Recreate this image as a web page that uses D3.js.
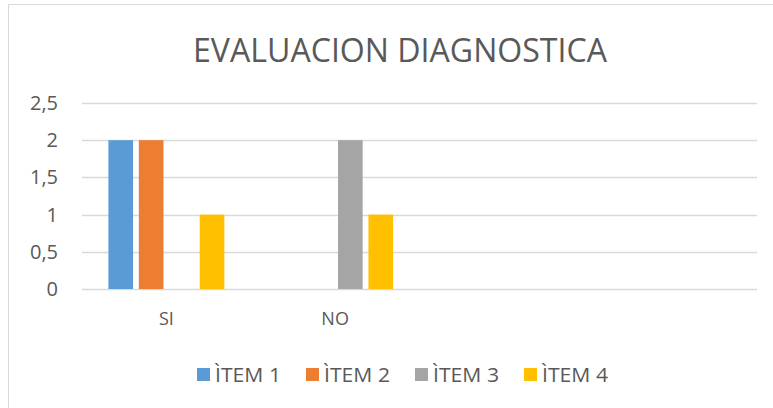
<!DOCTYPE html>
<html><head><meta charset="utf-8">
<script src="https://cdn.jsdelivr.net/npm/d3@7"></script>
<style>body{margin:0;background:#fff}svg{display:block}</style>
</head><body>
<script>
const title = "EVALUACION DIAGNOSTICA";
const categories = ["SI", "NO", "", ""];
const seriesNames = ["ÌTEM 1", "ÌTEM 2", "ÌTEM 3", "ÌTEM 4"];
const item1 = [2, 0, 0, 0];
const item2 = [2, 0, 0, 0];
const item3 = [0, 2, 0, 0];
const item4 = [1, 1, 0, 0];
const yTicks = [0, 0.5, 1, 1.5, 2, 2.5];
const colors = ["#5B9BD5", "#ED7D31", "#A5A5A5", "#FFC000"];
const seriesValues = [item1, item2, item3, item4];

const W = 773, H = 408;
const svg = d3.select("body").append("svg").attr("width", W).attr("height", H);
const font = "'Open Sans', sans-serif";
const txt = "#595959";

svg.append("rect").attr("x", 8.5).attr("y", 4.5).attr("width", 800).attr("height", 430)
  .attr("fill", "#fff").attr("stroke", "#D9D9D9");

svg.append("text").attr("x", 400).attr("y", 62).attr("text-anchor", "middle")
  .attr("font-family", font).attr("font-size", 33).attr("fill", txt)
  .attr("textLength", 414).attr("lengthAdjust", "spacingAndGlyphs").text(title);

const plot = {l: 82, r: 757, t: 103, b: 289};
const y = d3.scaleLinear().domain([0, 2.5]).range([plot.b, plot.t]);
const x0 = d3.scaleBand().domain(d3.range(categories.length)).range([plot.l, plot.r]);
const groupW = x0.bandwidth() * 0.687;
const x1 = d3.scaleBand().domain(d3.range(seriesNames.length)).range([0, groupW]).paddingInner(0.19);

const g = svg.append("g");
g.selectAll("line.grid").data(yTicks).join("line")
  .attr("x1", plot.l).attr("x2", plot.r)
  .attr("y1", d => Math.round(y(d)) + 0.5).attr("y2", d => Math.round(y(d)) + 0.5)
  .attr("stroke", "#D9D9D9").attr("stroke-width", 1.3);

const yAxis = d3.axisLeft(y).tickValues(yTicks).tickSize(0).tickPadding(0)
  .tickFormat(d => String(d).replace(".", ","));
const ya = svg.append("g").attr("transform", `translate(58,0)`).call(yAxis);
ya.select(".domain").remove();
ya.selectAll("text").attr("font-family", font).attr("font-size", 20).attr("fill", txt);

const xAxis = d3.axisBottom(x0).tickSize(0).tickPadding(0).tickFormat(i => categories[i]);
const xa = svg.append("g").attr("transform", `translate(0,311)`).call(xAxis);
xa.select(".domain").remove();
xa.selectAll("text").attr("font-family", font).attr("font-size", 18).attr("fill", txt).attr("dy", "0.8em");

categories.forEach((c, ci) => {
  const gx = x0(ci) + (x0.bandwidth() - groupW) / 2;
  seriesValues.forEach((vals, si) => {
    const v = vals[ci];
    if (!v) return;
    svg.append("rect").attr("x", gx + x1(si)).attr("width", x1.bandwidth())
      .attr("y", y(v)).attr("height", y(0) - y(v)).attr("fill", colors[si]);
  });
});

const legX = [197, 306, 415, 524];
const leg = svg.append("g");
seriesNames.forEach((n, i) => {
  leg.append("rect").attr("x", legX[i]).attr("y", 368).attr("width", 13).attr("height", 13).attr("fill", colors[i]);
  leg.append("text").attr("x", legX[i] + 18).attr("y", 382).attr("font-family", font)
    .attr("font-size", 20).attr("fill", txt)
    .attr("textLength", 66).attr("lengthAdjust", "spacingAndGlyphs").text(n);
});
</script>
</body></html>
